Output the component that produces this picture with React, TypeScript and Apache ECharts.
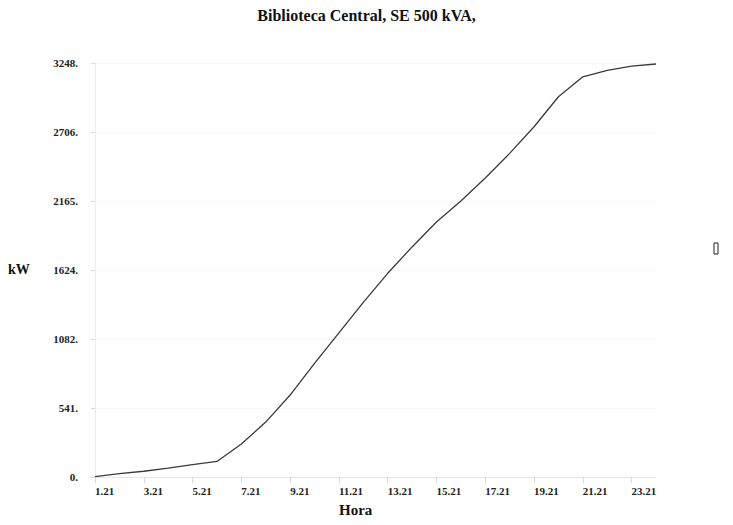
import React, { useEffect, useRef } from "react";
import * as echarts from "echarts";

const hours: string[] = [
  "1.21", "2.21", "3.21", "4.21", "5.21", "6.21", "7.21", "8.21",
  "9.21", "10.21", "11.21", "12.21", "13.21", "14.21", "15.21", "16.21",
  "17.21", "18.21", "19.21", "20.21", "21.21", "22.21", "23.21", "24.21",
];

const kw: number[] = [
  3, 26, 45, 70, 97, 122, 259, 431,
  643, 892, 1130, 1370, 1598, 1805, 2000, 2165,
  2346, 2539, 2748, 2983, 3140, 3190, 3224, 3240,
];

const yMax = 3248;
const ySteps = 6;

const titleText = "Biblioteca Central, SE 500 kVA,";
const yName = "kW";
const xName = "Hora";

export default function App() {
  const ref = useRef<HTMLDivElement>(null);
  useEffect(() => {
    if (!ref.current) return;
    const chart = echarts.init(ref.current, undefined, { renderer: "svg" });
    const serif = "'Liberation Serif', 'DejaVu Serif', serif";
    chart.setOption({
      animation: false,
      backgroundColor: "#ffffff",
      grid: { left: 95, right: 77, top: 63, bottom: 48 },
      graphic: [
        {
          type: "text",
          left: "center",
          top: 7,
          style: { text: titleText, font: `bold 16px ${serif}`, fill: "#111" },
        },
        {
          type: "text",
          x: 8,
          y: 262,
          style: { text: yName, font: `bold 14px ${serif}`, fill: "#111" },
        },
        {
          type: "text",
          x: 339,
          y: 502,
          style: { text: xName, font: `bold 15px ${serif}`, fill: "#111" },
        },
        {
          type: "rect",
          shape: { x: 714, y: 243, width: 4, height: 11 },
          style: { fill: "none", stroke: "#222", lineWidth: 1 },
        },
      ],
      xAxis: {
        type: "category",
        data: hours,
        boundaryGap: false,
        axisLine: { show: true, lineStyle: { color: "#e6e6e6", width: 1 } },
        axisTick: { show: true, interval: 1, length: 6, lineStyle: { color: "#d8d8d8" } },
        axisLabel: {
          interval: 1,
          align: "left",
          margin: 8,
          fontFamily: serif,
          fontWeight: "bold",
          fontSize: 11,
          color: "#222",
        },
        splitLine: { show: false },
      },
      yAxis: {
        type: "value",
        min: 0,
        max: yMax,
        interval: yMax / ySteps,
        axisLine: { show: true, lineStyle: { color: "#ececec", width: 1 } },
        axisTick: { show: true, length: 4, lineStyle: { color: "#d8d8d8" } },
        axisLabel: {
          margin: 17,
          fontFamily: serif,
          fontWeight: "bold",
          fontSize: 11,
          color: "#222",
          formatter: (v: number) => `${Math.floor(v + 1e-6)}.`,
        },
        splitLine: { show: true, lineStyle: { color: "#f3f3f3", type: "dotted" } },
      },
      series: [
        {
          type: "line",
          data: kw,
          symbol: "none",
          lineStyle: { color: "#3a3a3a", width: 1.3 },
        },
      ],
    });
    return () => chart.dispose();
  }, []);
  return (
    <div
      ref={ref}
      style={{ position: "fixed", left: 0, top: 0, width: 733, height: 525 }}
    />
  );
}
